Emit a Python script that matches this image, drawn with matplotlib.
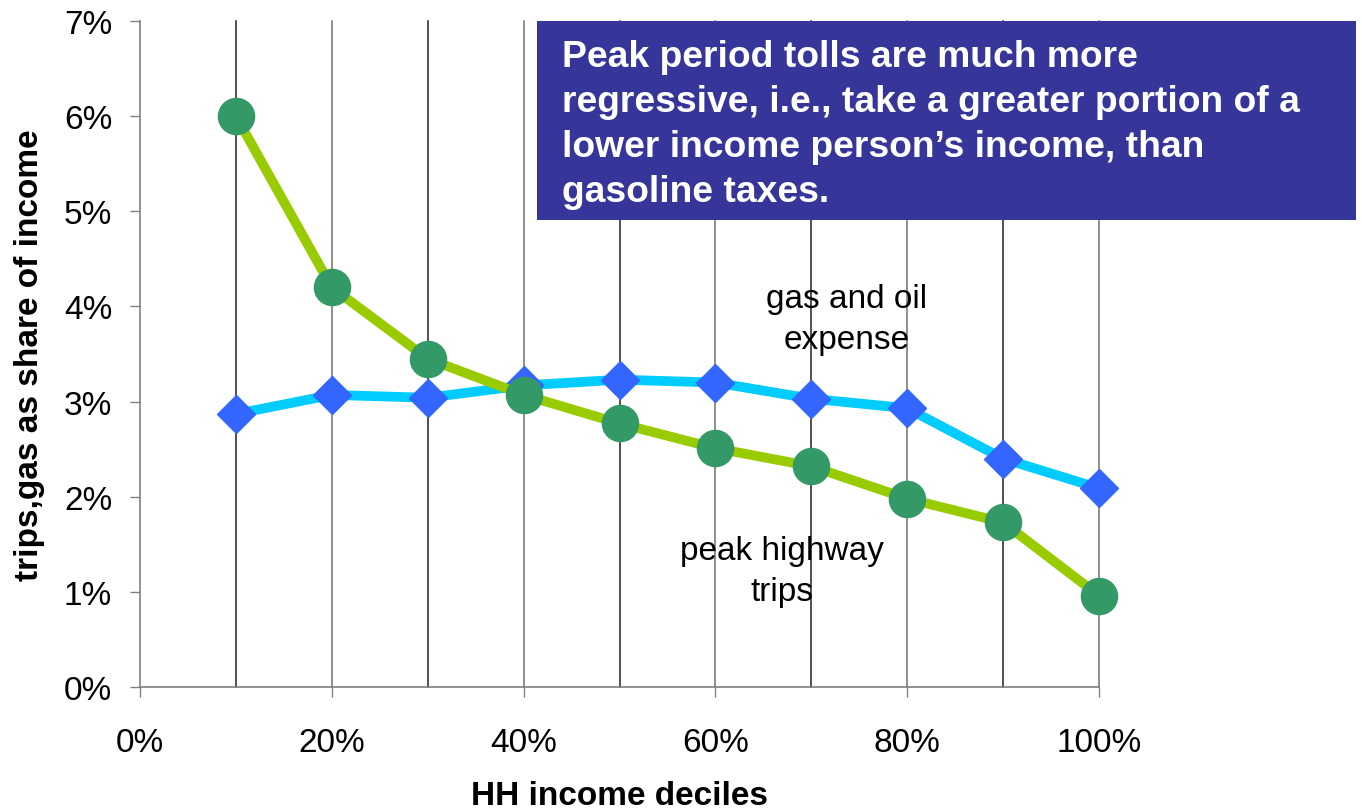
import matplotlib
matplotlib.use("Agg")
import matplotlib.pyplot as plt
from matplotlib.patches import Rectangle
from matplotlib.ticker import FuncFormatter

plt.rcParams['font.family'] = ['Liberation Sans', 'DejaVu Sans']

# income deciles (%) and cost shares (% of income)
deciles = [10, 20, 30, 40, 50, 60, 70, 80, 90, 100]
peak_trips = [6.00, 4.20, 3.45, 3.07, 2.77, 2.51, 2.32, 1.98, 1.73, 0.96]
gas_oil = [2.87, 3.07, 3.04, 3.17, 3.23, 3.20, 3.03, 2.93, 2.40, 2.09]

x_ticks = [0, 20, 40, 60, 80, 100]
y_ticks = [0, 1, 2, 3, 4, 5, 6, 7]

note = ("Peak period tolls are much more\n"
        "regressive, i.e., take a greater portion of a\n"
        "lower income person\u2019s income, than\n"
        "gasoline taxes.")

fig = plt.figure(figsize=(13.62, 8.12), dpi=100)
ax = fig.add_axes([140/1362, 1-688/812, (1099-140)/1362, (688-22)/812])

# vertical grid lines at every decile
for i, d in enumerate(deciles):
    ax.axvline(d, color='#222222' if i % 2 == 0 else '#707070', lw=1.1,
               zorder=1, clip_on=False)

ax.plot(deciles, gas_oil, color='#00CCFF', lw=7, marker='D', ms=19,
        mfc='#3366FF', mec='#3366FF', zorder=3, clip_on=False)
ax.plot(deciles, peak_trips, color='#99CC00', lw=7, marker='o', ms=26,
        mfc='#339966', mec='#339966', zorder=4, clip_on=False)

ax.set_xlim(0, 100)
ax.set_ylim(0, 7)
ax.set_xticks(x_ticks)
ax.set_yticks(y_ticks)
pct = FuncFormatter(lambda v, p: f"{v:.0f}%")
ax.xaxis.set_major_formatter(pct)
ax.yaxis.set_major_formatter(pct)
ax.tick_params(axis='both', labelsize=24, length=7, width=1, color='#808080')
ax.tick_params(axis='x', pad=22)
ax.tick_params(axis='y', pad=13)
for s in ['top', 'right']:
    ax.spines[s].set_visible(False)
for s in ['left', 'bottom']:
    ax.spines[s].set_color('#808080')
    ax.spines[s].set_linewidth(1.2)

ax.set_xlabel('HH income deciles', fontsize=24, fontweight='bold')
ax.xaxis.set_label_coords(0.5, (688-797)/666)
ax.xaxis.label.set_va('center')
ax.set_ylabel('trips,gas as share of income', fontsize=24, fontweight='bold')
ax.yaxis.set_label_coords((30-140)/959, 0.5)
ax.yaxis.label.set_va('center')

ax.text(73.7, 3.87, 'gas and oil\nexpense', fontsize=24, ha='center', va='center',
        linespacing=1.4, zorder=5)
ax.text(66.9, 1.22, 'peak highway\ntrips', fontsize=24, ha='center', va='center',
        linespacing=1.4, zorder=5)

# note box on top of the chart
box = Rectangle((537/1362, 1-221/812), (1356-537)/1362, (221-22)/812,
                transform=fig.transFigure, facecolor='#35359A', edgecolor='none', zorder=10)
fig.add_artist(box)
fig.text(562/1362, 1-40/812, note, color='white', fontsize=26.8, fontweight='bold',
         ha='left', va='top', linespacing=1.37, zorder=11)

fig.savefig('out.png', dpi=100)
